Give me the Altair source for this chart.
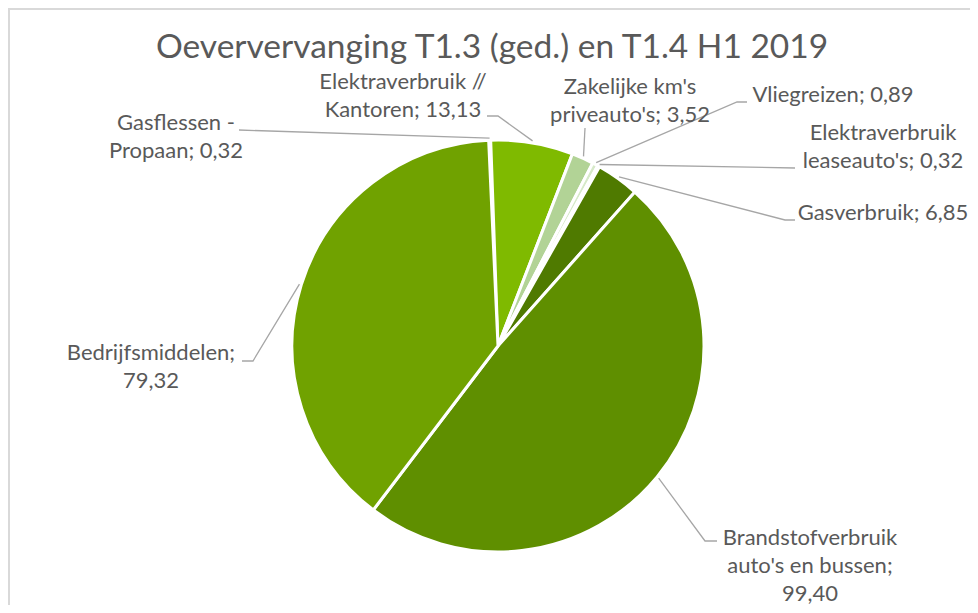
import math
import altair as alt
import pandas as pd

# ---- data ----
categories = [
    "Gasflessen - Propaan",
    "Elektraverbruik // Kantoren",
    "Zakelijke km's priveauto's",
    "Vliegreizen",
    "Elektraverbruik leaseauto's",
    "Gasverbruik",
    "Brandstofverbruik auto's en bussen",
    "Bedrijfsmiddelen",
]
values = [0.32, 13.13, 3.52, 0.89, 0.32, 6.85, 99.40, 79.32]
colors = ["#8fbf3f", "#7fba00", "#b2d396", "#d6e9c8", "#e8f2e0", "#4f7a00", "#5f8f00", "#70a200"]

# label wrapping (as in the reference)
label_first_lines = [
    "Gasflessen -",
    "Elektraverbruik //",
    "Zakelijke km's",
    None,
    "Elektraverbruik",
    None,
    "Brandstofverbruik",
    None,
]

# ---- layout (page pixels) ----
OFF = 8
CX, CY, R = 498 - OFF, 346 - OFF, 206
START_DEG = -2.6
# center x of label, y of first line
label_pos = [(176, 123), (403, 82), (630, 87), (833, 95), (883, 133), (883, 213), (810, 538), (151, 353)]
# leader: points from label side toward the pie (pie point added from slice angle)
leader_pts = [
    [(239, 130)],
    [(487, 116), (498, 116)],
    [(585, 128)],
    [(747, 102), (737, 102)],
    [(795, 168)],
    [(795, 220), (785, 220)],
    [(717, 541), (705, 541)],
    [(242, 361), (253, 361)],
]

W, H = 962, 597

total = sum(values)
df = pd.DataFrame({"cat": categories, "value": values, "idx": list(range(len(values)))})

a0 = math.radians(START_DEG)
pie = (
    alt.Chart(df)
    .mark_arc(outerRadius=R, stroke="white", strokeWidth=3)
    .encode(
        theta=alt.Theta("value:Q", stack=True, scale=alt.Scale(domain=[0, total], range=[a0, a0 + 2 * math.pi])),
        order=alt.Order("idx:Q"),
        color=alt.Color("cat:N", scale=alt.Scale(domain=categories, range=colors), legend=None),
        x=alt.value(CX),
        y=alt.value(CY),
    )
)


def fmt(v):
    return f"{v:.2f}".replace(".", ",")


lab_rows = []
cum = 0.0
line_rows = []
for i, (c, v) in enumerate(zip(categories, values)):
    mid = START_DEG + (cum + v / 2) / total * 360
    cum += v
    full = f"{c}; {fmt(v)}"
    first = label_first_lines[i]
    if first is not None:
        rest = full[len(first):].strip()
        if c.startswith("Brandstof"):
            rest = "auto's en bussen;\n" + fmt(v)
        text = first + "\n" + rest
    elif c == "Bedrijfsmiddelen":
        text = c + ";\n" + fmt(v)
    else:
        text = full
    lx, ly = label_pos[i]
    lab_rows.append({"text": text, "x": lx - OFF, "y": ly - OFF})
    px = CX + (R + 2) * math.sin(math.radians(mid))
    py = CY - (R + 2) * math.cos(math.radians(mid))
    pts = [(p[0] - OFF, p[1] - OFF) for p in leader_pts[i]] + [(px, py)]
    for k, (qx, qy) in enumerate(pts):
        line_rows.append({"lid": i, "k": k, "x": qx, "y": qy})

lab_df = pd.DataFrame(lab_rows)
line_df = pd.DataFrame(line_rows)

leaders = (
    alt.Chart(line_df)
    .mark_line(color="#a6a6a6", strokeWidth=1.3)
    .encode(
        x=alt.X("x:Q", scale=None),
        y=alt.Y("y:Q", scale=None),
        detail="lid:N",
        order="k:Q",
    )
)

labels = (
    alt.Chart(lab_df)
    .mark_text(font="Lato", fontSize=22, color="#595959", align="center", baseline="middle",
               lineBreak="\n", lineHeight=28)
    .encode(x=alt.X("x:Q", scale=None), y=alt.Y("y:Q", scale=None), text="text:N")
)

border = (
    alt.Chart(pd.DataFrame({"a": [0]}))
    .mark_rect(fill=None, stroke="#d9d9d9", strokeWidth=2)
    .encode(x=alt.value(1), x2=alt.value(W + 50), y=alt.value(1), y2=alt.value(H + 50))
)

title_df = pd.DataFrame({"t": ["Oeververvanging T1.3 (ged.) en T1.4 H1 2019"]})
title_mark = (
    alt.Chart(title_df)
    .mark_text(font="Lato", fontSize=33.5, color="#595959", align="center", baseline="middle")
    .encode(x=alt.value(492 - OFF), y=alt.value(48 - OFF), text="t:N")
)

chart = (
    alt.layer(border, pie, leaders, labels, title_mark)
    .properties(width=W, height=H, padding=0, autosize=alt.AutoSizeParams(type="none"))
    .configure_view(stroke=None)
)

chart.save("out.html", embed_options={"renderer": "svg", "actions": False})
